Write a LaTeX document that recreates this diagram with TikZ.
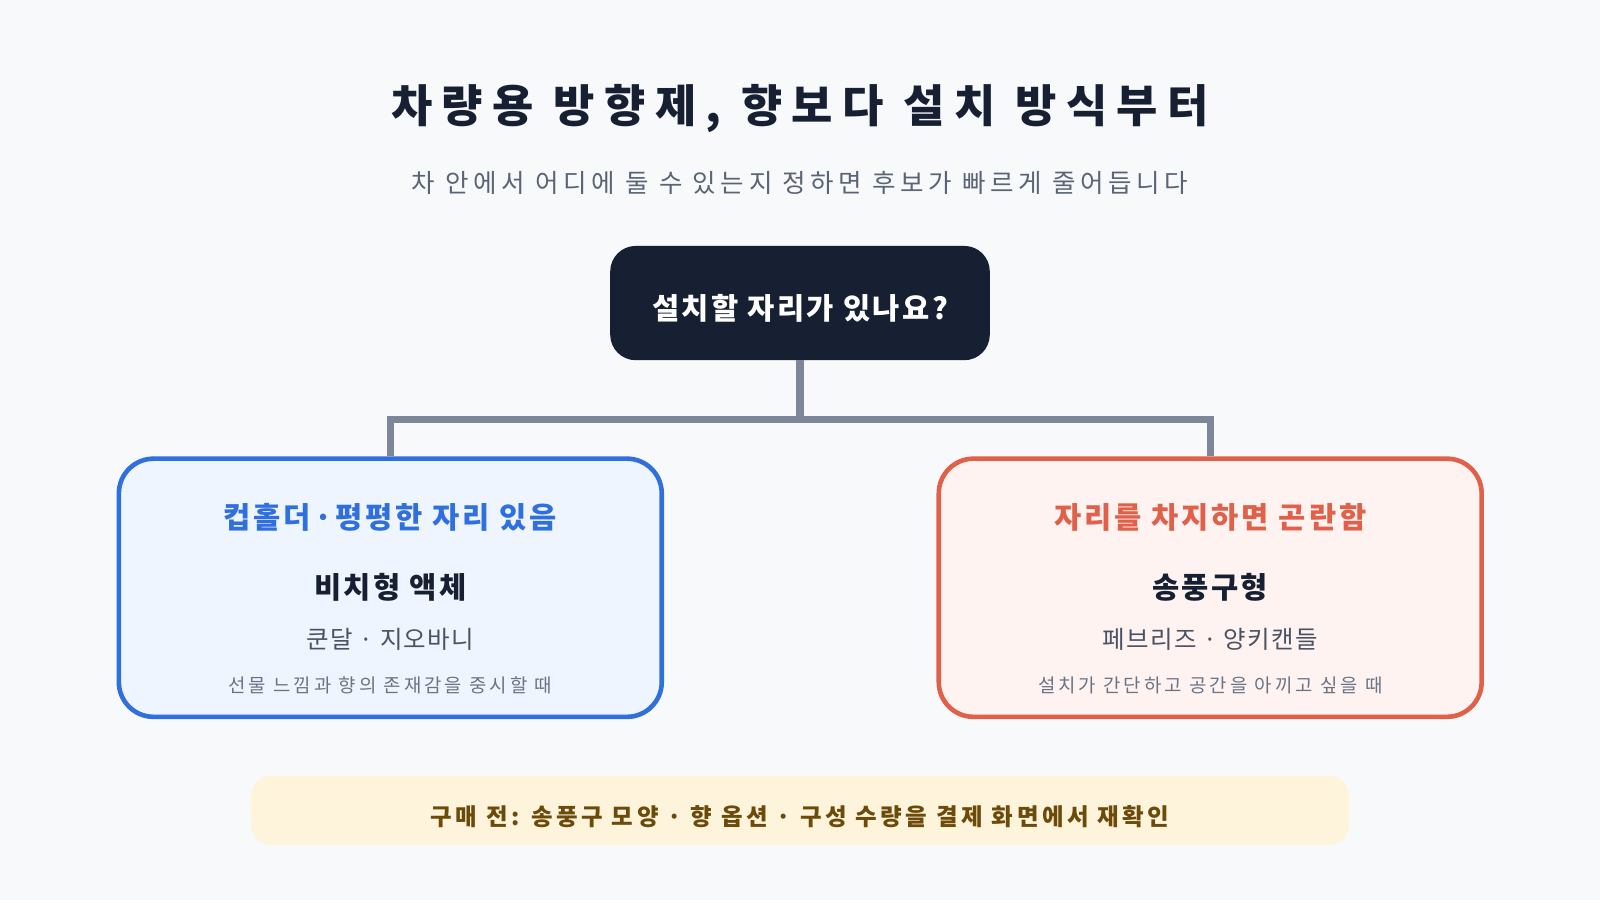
\documentclass[tikz,border=0pt]{standalone}
\usepackage{fontspec}
\setmainfont{Noto Sans CJK KR}
\definecolor{bg}{HTML}{F7F9FB}
\definecolor{dark}{HTML}{172033}
\definecolor{sub}{HTML}{5A6475}
\definecolor{conn}{HTML}{7D8799}
\definecolor{bluef}{HTML}{EEF5FE}
\definecolor{blueb}{HTML}{2F6FDE}
\definecolor{redf}{HTML}{FEF3F0}
\definecolor{redb}{HTML}{E0604A}
\definecolor{notef}{HTML}{FEF4DC}
\definecolor{notet}{HTML}{6B4A0A}
\definecolor{graytxt}{HTML}{4A5263}
\definecolor{smalltxt}{HTML}{6B7385}
\newcommand{\ls}[1]{\addfontfeature{LetterSpace=#1}}
\tikzset{
  card/.style={draw,line width=4.5pt,rounded corners=34pt,minimum width=532pt,minimum height=253pt,inner sep=0pt},
  conn/.style={draw=conn,line width=7pt},
  t/.style={inner sep=0pt,anchor=center}
}
\begin{document}
\begin{tikzpicture}[x=1pt,y=-1pt]
\fill[bg] (0,0) rectangle (1568,882);
\useasboundingbox (0,0) rectangle (1568,882);
\node[t,text=dark,font=\fontsize{44}{50}\selectfont\bfseries\ls{21}] (title) at (784,106) {차량용 방향제, 향보다 설치 방식부터};
\node[t,text=sub,font=\fontsize{25}{30}\selectfont\ls{18}] (subt) at (784,179) {차 안에서 어디에 둘 수 있는지 정하면 후보가 빠르게 줄어듭니다};
\node[fill=dark,rounded corners=25pt,minimum width=372pt,minimum height=112pt,inner sep=0pt] (q) at (784,297) {};
\node[t,text=white,font=\fontsize{29}{34}\selectfont\bfseries\ls{8}] at (784,302) {설치할 자리가 있나요?};
\node[card,draw=blueb,fill=bluef] (L) at (382.5,576) {};
\node[card,draw=redb,fill=redf] (R) at (1186,576) {};
\coordinate (j) at (784,411);
\coordinate (jl) at (383,411);
\coordinate (jr) at (1186,411);
\draw[conn] (q.south) -- (j);
\draw[conn] (383,447) -- (jl) -- (jr) -- (1186,447);
\node[t,text=blueb,font=\fontsize{29}{34}\selectfont\bfseries\ls{10}] at (382.5,507) {컵홀더·평평한 자리 있음};
\node[t,text=dark,font=\fontsize{29}{34}\selectfont\bfseries\ls{8}] at (382.5,576) {비치형 액체};
\node[t,text=graytxt,font=\fontsize{24}{28}\selectfont\ls{5}] at (382.5,627) {쿤달 · 지오바니};
\node[t,text=smalltxt,font=\fontsize{18.5}{22}\selectfont\ls{16}] at (382.5,672) {선물 느낌과 향의 존재감을 중시할 때};
\node[t,text=redb,font=\fontsize{29}{34}\selectfont\bfseries\ls{10}] at (1186,507) {자리를 차지하면 곤란함};
\node[t,text=dark,font=\fontsize{29}{34}\selectfont\bfseries\ls{8}] at (1186,576) {송풍구형};
\node[t,text=graytxt,font=\fontsize{24}{28}\selectfont\ls{5}] at (1186,627) {페브리즈 · 양키캔들};
\node[t,text=smalltxt,font=\fontsize{18.5}{22}\selectfont\ls{16}] at (1186,672) {설치가 간단하고 공간을 아끼고 싶을 때};
\node[fill=notef,rounded corners=20pt,minimum width=1076pt,minimum height=68pt,inner sep=0pt] (note) at (784,794) {};
\node[t,text=notet,font=\fontsize{23}{28}\selectfont\bfseries\ls{15}] at (784,800) {구매 전: 송풍구 모양 · 향 옵션 · 구성 수량을 결제 화면에서 재확인};
\end{tikzpicture}
\end{document}
